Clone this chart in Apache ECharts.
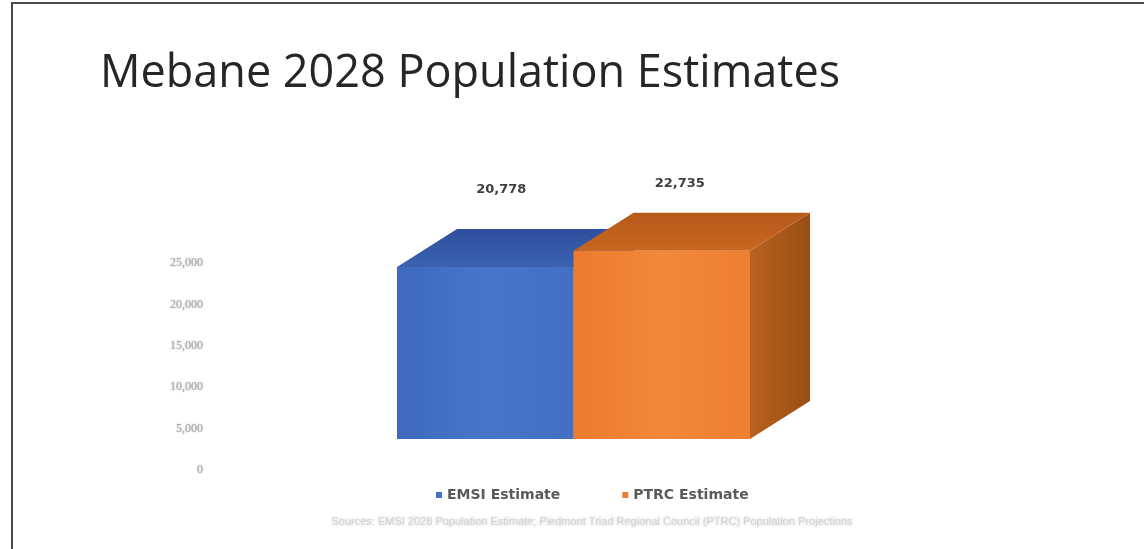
<!DOCTYPE html>
<html>
<head>
<meta charset="utf-8">
<title>Mebane 2028 Population Estimates</title>
<script src="https://cdn.jsdelivr.net/npm/echarts@6/dist/echarts.min.js"></script>
<style>
  html, body { margin: 0; padding: 0; background: #ffffff; }
  #chart { width: 1144px; height: 549px; }
</style>
</head>
<body>
<div id="chart"></div>
<script>
// ---- data ----
const categories = ['EMSI Estimate', 'PTRC Estimate'];
const seriesNames = ['EMSI Estimate', 'PTRC Estimate'];
const emsiValues = [20778];
const ptrcValues = [22735];
const axisTicks = [0, 5000, 10000, 15000, 20000, 25000];

const titleText = 'Mebane 2028 Population Estimates';
const sourceText = 'Sources: EMSI 2028 Population Estimate; Piedmont Triad Regional Council (PTRC) Population Projections';

// ---- styling ----
const DEPTH_X = 60;   // 3D depth offset, px
const DEPTH_Y = -38;

const palette = {
  blue: {
    front: new echarts.graphic.LinearGradient(0, 0, 1, 0, [
      { offset: 0, color: '#3e69bd' },
      { offset: 0.5, color: '#4776c8' },
      { offset: 1, color: '#426fc2' }
    ]),
    top: new echarts.graphic.LinearGradient(0, 0, 0, 1, [
      { offset: 0, color: '#2f4f9e' },
      { offset: 1, color: '#3b62b0' }
    ]),
    side: '#2f55a0'
  },
  orange: {
    front: new echarts.graphic.LinearGradient(0, 0, 1, 0, [
      { offset: 0, color: '#ec7a2c' },
      { offset: 0.5, color: '#f2883a' },
      { offset: 1, color: '#ee7f30' }
    ]),
    top: new echarts.graphic.LinearGradient(0, 0, 0, 1, [
      { offset: 0, color: '#b65a1b' },
      { offset: 1, color: '#c9661f' }
    ]),
    side: new echarts.graphic.LinearGradient(0, 0, 1, 0, [
      { offset: 0, color: '#b8621f' },
      { offset: 1, color: '#9a4e15' }
    ])
  }
};

const fmt = v => v.toLocaleString('en-US');

// Draws one 3D box: front face, top face, right side face and its value label.
function makeBoxRenderer(colors, labelLift, labelShift) {
  return function (params, api) {
    const cat = api.value(0);
    const v = api.value(1);
    const top = api.coord([cat, v]);
    const base = api.coord([cat, 0]);
    const w = api.size([1, 0])[0];
    const x0 = top[0] - w / 2;
    const x1 = top[0] + w / 2;
    const yT = top[1];
    const yB = base[1];
    return {
      type: 'group',
      children: [
        {
          type: 'polygon',
          shape: { points: [[x1, yT], [x1 + DEPTH_X, yT + DEPTH_Y], [x1 + DEPTH_X, yB + DEPTH_Y], [x1, yB]] },
          style: { fill: colors.side }
        },
        {
          type: 'polygon',
          shape: { points: [[x0, yT], [x0 + DEPTH_X, yT + DEPTH_Y], [x1 + DEPTH_X, yT + DEPTH_Y], [x1, yT]] },
          style: { fill: colors.top }
        },
        {
          type: 'rect',
          shape: { x: x0, y: yT, width: w, height: yB - yT },
          style: { fill: colors.front }
        },
        {
          type: 'text',
          x: top[0] + labelShift,
          y: yT - labelLift,
          style: {
            text: fmt(v),
            align: 'center',
            verticalAlign: 'middle',
            fill: '#404040',
            font: 'bold 13px "DejaVu Sans", sans-serif'
          }
        }
      ]
    };
  };
}

const chart = echarts.init(document.getElementById('chart'), null, { renderer: 'canvas' });

chart.setOption({
  backgroundColor: '#ffffff',
  animation: false,
  title: {
    text: titleText,
    left: 95,
    top: 47,
    textStyle: {
      fontFamily: '"Open Sans", sans-serif',
      fontWeight: 'normal',
      fontSize: 45,
      color: '#262626'
    }
  },
  legend: {
    data: seriesNames,
    left: 431,
    top: 483,
    icon: 'rect',
    itemWidth: 6,
    itemHeight: 6,
    itemGap: 62,
    textStyle: {
      fontFamily: '"DejaVu Sans", sans-serif',
      fontWeight: 'bold',
      fontSize: 14,
      color: '#5a5a5a'
    }
  },
  color: ['#4472c4', '#ed7d31'],
  grid: [
    // value scale shown at the left
    { left: 205, top: 263, width: 10, height: 207 },
    // 3D boxes
    { left: 397, top: 232, width: 353, height: 207 }
  ],
  xAxis: [
    { gridIndex: 0, type: 'category', data: [''], show: false },
    { gridIndex: 1, type: 'category', data: categories, show: false, boundaryGap: true }
  ],
  yAxis: [
    {
      gridIndex: 0,
      type: 'value',
      min: axisTicks[0],
      max: axisTicks[axisTicks.length - 1],
      interval: axisTicks[1] - axisTicks[0],
      axisLine: { show: false },
      axisTick: { show: false },
      splitLine: { show: false },
      axisLabel: {
        margin: 2,
        formatter: v => fmt(v),
        fontFamily: '"Liberation Serif", serif',
        fontSize: 12,
        color: '#a8a8a8',
        textShadowColor: 'rgba(160,160,160,0.8)',
        textShadowBlur: 2
      }
    },
    {
      gridIndex: 1,
      type: 'value',
      min: axisTicks[0],
      max: axisTicks[axisTicks.length - 1],
      show: false
    }
  ],
  series: [
    {
      name: seriesNames[0],
      type: 'custom',
      xAxisIndex: 1,
      yAxisIndex: 1,
      itemStyle: { color: '#4472c4' },
      renderItem: makeBoxRenderer(palette.blue, 77, 16),
      data: emsiValues.map(v => [0, v]),
      z: 2
    },
    {
      name: seriesNames[1],
      type: 'custom',
      xAxisIndex: 1,
      yAxisIndex: 1,
      itemStyle: { color: '#ed7d31' },
      renderItem: makeBoxRenderer(palette.orange, 67, 18),
      data: ptrcValues.map(v => [1, v]),
      z: 3
    }
  ],
  graphic: [
    // slide frame
    { type: 'line', shape: { x1: 11, y1: 3, x2: 1144, y2: 3 }, style: { stroke: '#4a4a4a', lineWidth: 2 } },
    { type: 'line', shape: { x1: 12, y1: 2, x2: 12, y2: 549 }, style: { stroke: '#4a4a4a', lineWidth: 2 } },
    {
      type: 'text',
      x: 592,
      y: 522,
      style: {
        text: sourceText,
        align: 'center',
        verticalAlign: 'middle',
        font: '11px "Liberation Sans", sans-serif',
        fill: '#d2d2d2',
        textShadowColor: 'rgba(200,200,200,0.9)',
        textShadowBlur: 3
      }
    }
  ]
});
</script>
</body>
</html>
